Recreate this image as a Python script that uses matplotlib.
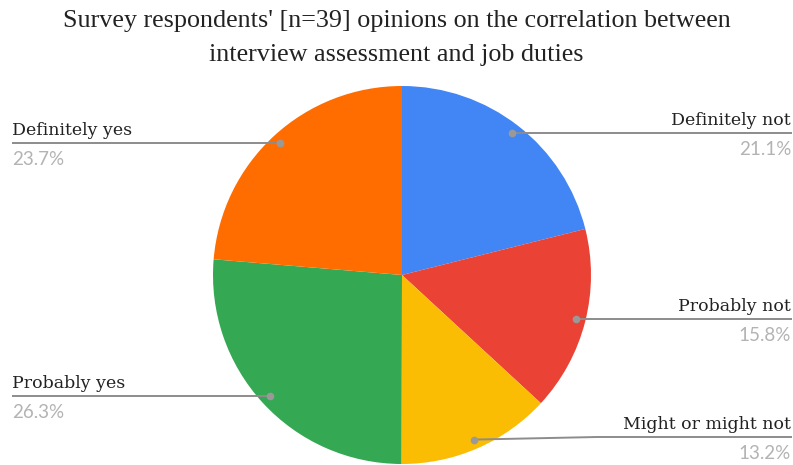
import numpy as np
import matplotlib
matplotlib.use("Agg")
import matplotlib.pyplot as plt

# Survey answers (share of respondents, %) in clockwise order from 12 o'clock
categories = ["Definitely not", "Probably not", "Might or might not",
              "Probably yes", "Definitely yes"]
shares = [21.1, 15.8, 13.2, 26.3, 23.7]
colors = ["#4285F4", "#EA4335", "#FBBC04", "#34A853", "#FF6D01"]
title_lines = ["Survey respondents' [n=39] opinions on the correlation between",
               "interview assessment and job duties"]

W, H = 793, 465
fig = plt.figure(figsize=(W / 100, H / 100), dpi=100)
ax = fig.add_axes([0, 0, 1, 1])

cx, cy, R = 402, 275, 189

# y axis is inverted below, so start at -90 (visually 12 o'clock) and let the
# counter-clockwise data direction run clockwise on screen
wedges, _ = ax.pie(shares, colors=colors, startangle=-90, counterclock=True,
                   center=(cx, cy), radius=R, frame=True,
                   wedgeprops=dict(linewidth=0))
ax.set_xlim(0, W)
ax.set_ylim(H, 0)          # pixel-style coordinates, y grows downward
ax.set_aspect("auto")
ax.axis("off")

serif = ["DejaVu Serif"]
title_font = ["Liberation Serif", "DejaVu Serif"]
sans = ["Lato", "Open Sans", "DejaVu Sans"]
line_col = "#8c8c8c"

for w, name, val in zip(wedges, categories, shares):
    mid = np.deg2rad((w.theta1 + w.theta2) / 2)
    dx, dy = 0.95 * R * np.cos(mid), 0.95 * R * np.sin(mid)
    px, py = cx + dx, cy + dy
    right = dx > 0
    line_y = min(py, 437)
    if right:
        bend_x, end_x, tx, ha = cx + R + 6, 792, 791, "right"
    else:
        bend_x, end_x, tx, ha = cx - R - 6, 12, 12, "left"
    ax.plot([px, bend_x, end_x], [py, line_y, line_y], color=line_col,
            lw=1.4, solid_capstyle="butt", zorder=3)
    ax.plot([px], [py], "o", ms=5.5, color="#999999", mec="none", zorder=4)
    ax.text(tx, line_y - 8, name, ha=ha, va="baseline", fontsize=12.5,
            family=serif, color="#222222")
    ax.text(tx, line_y + 22, f"{val:.1f}%", ha=ha, va="baseline",
            fontsize=13.5, family=sans, color="#b3b3b3")

for i, line in enumerate(title_lines):
    ax.text(396.5, 27 + 34 * i, line, ha="center", va="baseline",
            fontsize=18.8, family=title_font, color="#222222")

fig.savefig("out.png", dpi=100, facecolor="white")
